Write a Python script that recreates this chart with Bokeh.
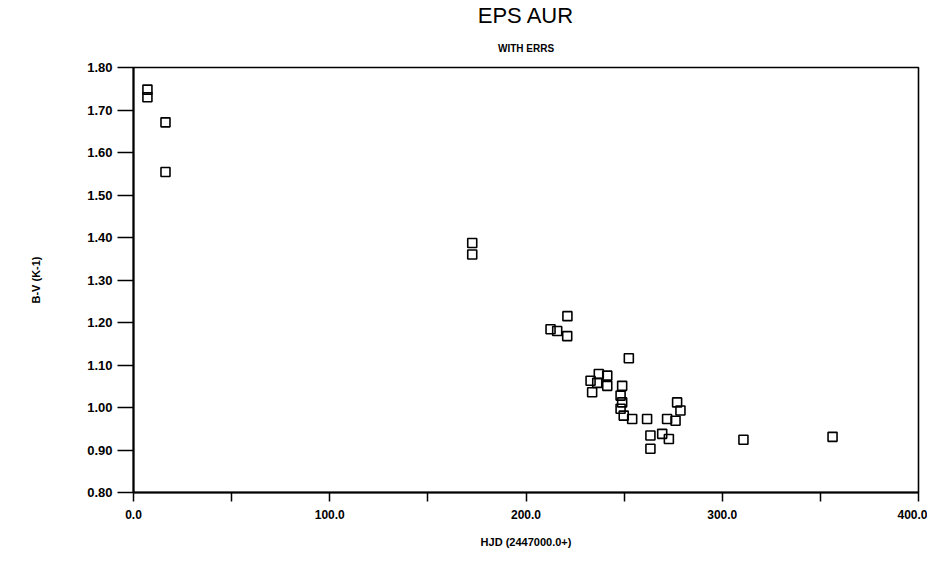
from bokeh.plotting import figure
from bokeh.models import Range1d, FixedTicker, PrintfTickFormatter, Title, ColumnDataSource
from bokeh.embed import file_html
from bokeh.resources import INLINE

# Data (JD 2447000.0+ vs magnitude difference)
jd = [7.1, 7.1, 16.3, 16.3, 172.6, 172.6, 212.5, 215.9, 221.1, 221.0,
      232.9, 233.7, 236.3, 237.1, 241.4, 241.4, 248.2, 248.2, 249.0, 249.0,
      249.8, 252.4, 254.1, 261.7, 263.4, 263.4, 269.4, 271.9, 272.8, 276.2,
      277.0, 278.7, 310.8, 356.2]
dv = [1.748, 1.730, 1.671, 1.554, 1.387, 1.360, 1.184, 1.180, 1.215, 1.168,
      1.063, 1.036, 1.058, 1.079, 1.075, 1.051, 1.028, 0.997, 1.051, 1.012,
      0.981, 1.116, 0.973, 0.973, 0.934, 0.903, 0.938, 0.973, 0.926, 0.969,
      1.012, 0.993, 0.924, 0.931]

x_ticks = [0, 100, 200, 300, 400]
x_minor = [50, 150, 250, 350]
y_ticks = [0.8, 0.9, 1.0, 1.1, 1.2, 1.3, 1.4, 1.5, 1.6, 1.7, 1.8]

title_text = "EPS AUR"
subtitle_text = "WITH ERRS"
x_label = "HJD (2447000.0+)"
y_label = "B-V (K-1)"

src = ColumnDataSource(dict(x=jd, y=dv))

p = figure(width=927, height=550, output_backend="svg", toolbar_location=None,
           x_range=Range1d(0, 400), y_range=Range1d(0.8, 1.8),
           min_border_left=133, min_border_right=9,
           min_border_top=67, min_border_bottom=56,
           background_fill_color="white", border_fill_color="white")
p.title = None

p.scatter("x", "y", source=src, marker="square", size=9, fill_color=None,
          line_color="black", line_width=1.6)

p.xgrid.visible = False
p.ygrid.visible = False
p.outline_line_color = "black"
p.outline_line_width = 1.6
p.outline_line_alpha = 1.0

xa = p.xaxis[0]
xa.ticker = FixedTicker(ticks=x_ticks, minor_ticks=x_minor)
xa.formatter = PrintfTickFormatter(format="%.1f")
xa.major_tick_out = 9
xa.major_tick_in = 0
xa.minor_tick_out = 9
xa.minor_tick_in = 0
xa.major_label_standoff = 8
xa.axis_label = x_label
xa.axis_label_standoff = 14
xa.axis_line_width = 2
xa.major_tick_line_width = 1.5
xa.minor_tick_line_width = 1.5

ya = p.yaxis[0]
ya.ticker = FixedTicker(ticks=y_ticks)
ya.formatter = PrintfTickFormatter(format="%.2f")
ya.major_tick_out = 16
ya.major_tick_in = 0
ya.minor_tick_out = 0
ya.minor_tick_in = 0
ya.major_label_standoff = 5
ya.axis_label = y_label
ya.axis_label_standoff = 42
ya.axis_line_width = 2
ya.major_tick_line_width = 1.5

for ax in (xa, ya):
    ax.axis_line_color = "black"
    ax.major_tick_line_color = "black"
    ax.minor_tick_line_color = "black"
    ax.major_label_text_font = "Liberation Sans"
    ax.major_label_text_font_style = "bold"
    ax.major_label_text_color = "black"
    ax.axis_label_text_font = "Liberation Sans"
    ax.axis_label_text_font_size = "11px"
    ax.axis_label_text_font_style = "bold"
    ax.axis_label_text_color = "black"
xa.major_label_text_font_size = "12px"
ya.major_label_text_font_size = "13px"

p.add_layout(Title(text=subtitle_text, align="center", offset=8,
                   vertical_align="top",
                   text_font="Liberation Sans", text_font_size="10px",
                   text_font_style="bold", text_color="black", standoff=24), "above")
p.add_layout(Title(text=title_text, align="center", offset=0,
                   vertical_align="top",
                   text_font="Liberation Sans", text_font_size="22px",
                   text_font_style="normal", text_color="black", standoff=2), "above")

open("out.html", "w").write(file_html(p, INLINE))
